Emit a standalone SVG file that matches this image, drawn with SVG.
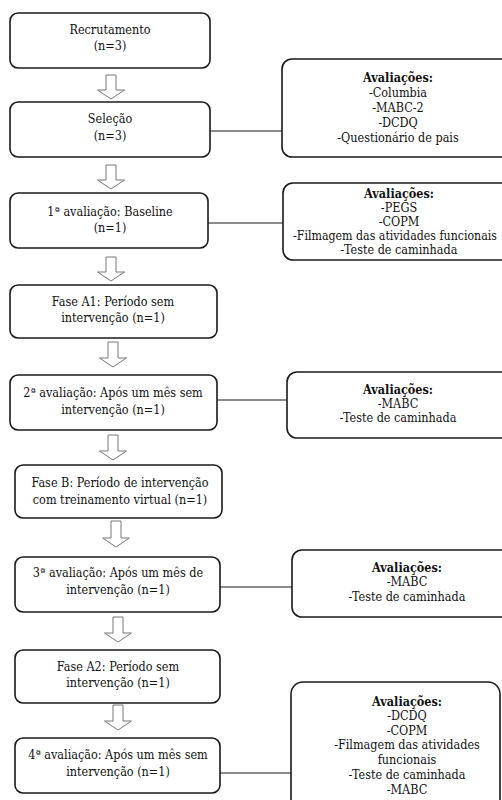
<svg xmlns="http://www.w3.org/2000/svg" width="502" height="800" viewBox="0 0 502 800">
<style>
.box{fill:#fff;stroke:#1a1a1a;stroke-width:1.6}
text{font-family:'DejaVu Serif Condensed','DejaVu Serif','Liberation Serif',serif;font-stretch:condensed;font-size:12.5px;fill:#111;text-anchor:middle}
.b{font-weight:bold}
.arr{fill:#fff;stroke:#777;stroke-width:1}
.con{stroke:#1a1a1a;stroke-width:1.2;fill:none}
</style>
<rect width="502" height="800" fill="#fff"/>
<g id="connectors">
<line class="con" x1="210" y1="131" x2="283" y2="131"/>
<line class="con" x1="208" y1="223" x2="284" y2="223"/>
<line class="con" x1="217" y1="400" x2="288" y2="400"/>
<line class="con" x1="220" y1="587" x2="293" y2="587"/>
<line class="con" x1="220" y1="773" x2="292" y2="773"/>
<path class="arr" d="M106,75 H116 V90 H124.5 L111,99 L97.5,90 H106 Z"/>
<path class="arr" d="M106,165 H116 V180 H124.5 L111,189 L97.5,180 H106 Z"/>
<path class="arr" d="M106,257 H116 V272 H124.5 L111,281 L97.5,272 H106 Z"/>
<path class="arr" d="M108,342 H118 V358 H126.5 L113,367 L99.5,358 H108 Z"/>
<path class="arr" d="M108,435 H118 V451 H126.5 L113,460 L99.5,451 H108 Z"/>
<path class="arr" d="M111,521 H121 V538 H129.5 L116,547 L102.5,538 H111 Z"/>
<path class="arr" d="M113,617 H123 V633 H131.5 L118,642 L104.5,633 H113 Z"/>
<path class="arr" d="M113,705 H123 V721 H131.5 L118,730 L104.5,721 H113 Z"/>
</g>
<g id="n1"><rect class="box" x="10" y="13" width="200" height="55" rx="8"/><text x="110" y="34">Recrutamento</text><text x="110" y="50">(n=3)</text></g>
<g id="n2"><rect class="box" x="10" y="102" width="200" height="55" rx="8"/><text x="110" y="123">Seleção</text><text x="110" y="140">(n=3)</text></g>
<g id="n3"><rect class="box" x="10" y="193" width="198" height="55" rx="8"/><text x="110" y="216">1ª avaliação: Baseline</text><text x="110" y="232">(n=1)</text></g>
<g id="n4"><rect class="box" x="10" y="285" width="207" height="53" rx="8"/><text x="113" y="306">Fase A1: Período sem</text><text x="113" y="322">intervenção (n=1)</text></g>
<g id="n5"><rect class="box" x="10" y="375" width="207" height="55" rx="8"/><text x="113" y="397">2ª avaliação: Após um mês sem</text><text x="113" y="414">intervenção (n=1)</text></g>
<g id="n6"><rect class="box" x="15" y="465" width="207" height="53" rx="8"/><text x="120" y="487">Fase B: Período de intervenção</text><text x="120" y="504">com treinamento virtual (n=1)</text></g>
<g id="n7"><rect class="box" x="15" y="557" width="205" height="55" rx="8"/><text x="118" y="577">3ª avaliação: Após um mês de</text><text x="118" y="594">intervenção (n=1)</text></g>
<g id="n8"><rect class="box" x="15" y="650" width="205" height="53" rx="8"/><text x="118" y="671">Fase A2: Período sem</text><text x="118" y="687">intervenção (n=1)</text></g>
<g id="n9"><rect class="box" x="15" y="738" width="205" height="55" rx="8"/><text x="118" y="759">4ª avaliação: Após um mês sem</text><text x="118" y="776">intervenção (n=1)</text></g>
<g id="r1"><rect class="box" x="282" y="59" width="240" height="98" rx="10"/>
<text class="b" x="398" y="82">Avaliações:</text><text x="398" y="97">-Columbia</text><text x="398" y="112">-MABC-2</text><text x="398" y="127">-DCDQ</text><text x="398" y="142">-Questionário de pais</text></g>
<g id="r2"><rect class="box" x="283" y="183" width="240" height="77" rx="10"/>
<text class="b" x="399" y="198">Avaliações:</text><text x="399" y="212">-PEGS</text><text x="399" y="226">-COPM</text><text x="395" y="240" textLength="204" lengthAdjust="spacingAndGlyphs">-Filmagem das atividades funcionais</text><text x="399" y="254">-Teste de caminhada</text></g>
<g id="r3"><rect class="box" x="287" y="372" width="240" height="66" rx="10"/>
<text class="b" x="398" y="394">Avaliações:</text><text x="398" y="408">-MABC</text><text x="398" y="422">-Teste de caminhada</text></g>
<g id="r4"><rect class="box" x="292" y="550" width="240" height="67" rx="10"/>
<text class="b" x="407" y="572">Avaliações:</text><text x="407" y="586">-MABC</text><text x="407" y="601">-Teste de caminhada</text></g>
<g id="r5"><rect class="box" x="291" y="682" width="209" height="130" rx="12"/>
<text class="b" x="407" y="706">Avaliações:</text><text x="407" y="720">-DCDQ</text><text x="407" y="735">-COPM</text><text x="407" y="749">-Filmagem das atividades</text><text x="407" y="764">funcionais</text><text x="407" y="779">-Teste de caminhada</text><text x="407" y="794">-MABC</text></g>
</svg>
